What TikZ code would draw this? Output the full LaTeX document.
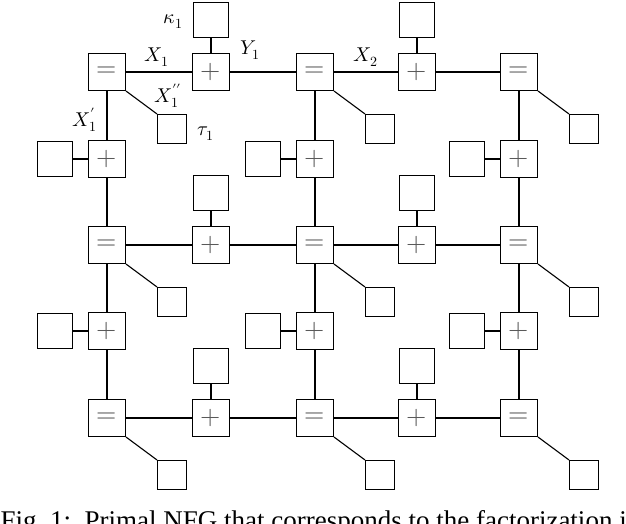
\documentclass[tikz,border=0pt]{standalone}
\usepackage{fontspec}
\setmainfont{Liberation Serif}
\usepackage{unicode-math}
\begin{document}
\begin{tikzpicture}[x=1pt,y=-1pt,line width=1.1pt,
  fn/.style={draw,minimum size=37pt,inner sep=0pt,text=black!65,font=\fontsize{26}{28}\selectfont},
  big/.style={draw,minimum size=35pt,inner sep=0pt},
  sm/.style={draw,minimum size=29pt,inner sep=0pt},
  lab/.style={font=\fontsize{20}{22}\selectfont,inner sep=0pt}]
\clip (0,0) rectangle (626,524);
\useasboundingbox (0,0) rectangle (626,524);
\foreach \r/\y in {1/72,2/245,3/418}{
  \node[fn] (e\r1) at (107,\y) {$=$};
  \node[fn] (e\r2) at (315,\y) {$=$};
  \node[fn] (e\r3) at (519,\y) {$=$};
  \node[fn] (h\r1) at (211,\y) {$+$};
  \node[fn] (h\r2) at (417,\y) {$+$};
  \node[big] (t\r1) at (211,\y-52) {};
  \node[big] (t\r2) at (417,\y-52) {};
  \draw (e\r1)--(h\r1)--(e\r2)--(h\r2)--(e\r3);
  \draw (t\r1)--(h\r1); \draw (t\r2)--(h\r2);
  \foreach \c/\x in {1/107,2/315,3/519}{
    \node[sm] (s\r\c) at (\x+65,\y+57) {};
    \draw (e\r\c.south east)--(s\r\c.north west);
  }
}
\foreach \r/\y in {1/159,2/331}{
  \foreach \c/\x in {1/107,2/315,3/519}{
    \node[fn] (v\r\c) at (\x,\y) {$+$};
    \node[big] (l\r\c) at (\x-52,\y) {};
    \draw (l\r\c)--(v\r\c);
  }
}
\foreach \c in {1,2,3}{
  \draw (e1\c)--(v1\c)--(e2\c)--(v2\c)--(e3\c);
}
\node[lab] at (173,22) {$\kappa_1$};
\node[lab] at (250,50) {$Y_1$};
\node[lab] at (157,57) {$X_1$};
\node[lab] at (366,57) {$X_2$};
\node[lab] at (168,96) {$X_1^{\prime\prime}$};
\node[lab] at (85,120) {$X_1^{\prime}$};
\node[lab] at (206,134) {$\tau_1$};
\node[anchor=north west,inner sep=0pt,font=\fontsize{27}{29}\selectfont] at (0,510) {Fig.\ 1:\ \ Primal NFG that corresponds to the factorization in};
\end{tikzpicture}
\end{document}
